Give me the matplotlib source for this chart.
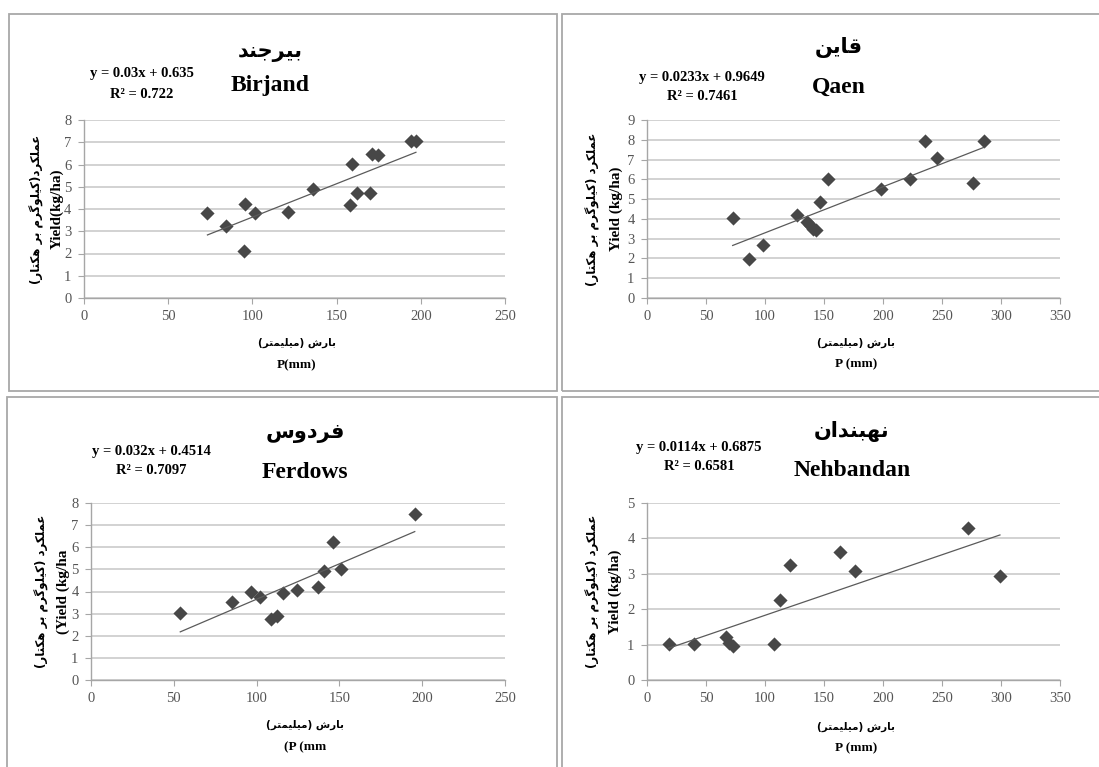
import numpy as np
import matplotlib.pyplot as plt
from matplotlib.patches import Rectangle

# ---- data ----
birjand_p = [73.3, 84.2, 95.5, 95.1, 101.6, 121.4, 136.1, 158.9, 157.9, 162.0, 169.8, 171.0, 174.7, 194.1, 197.1]
birjand_y = [3.80, 3.23, 4.21, 2.12, 3.83, 3.88, 4.92, 6.02, 4.20, 4.74, 4.71, 6.45, 6.44, 7.04, 7.07]

qaen_p = [72.6, 86.7, 98.6, 126.8, 135.3, 138.1, 141.0, 143.2, 146.6, 153.7, 198.0, 223.2, 235.3, 245.5, 276.6, 285.6]
qaen_y = [4.02, 1.99, 2.67, 4.19, 3.85, 3.68, 3.51, 3.43, 4.83, 6.01, 5.49, 6.01, 7.96, 7.06, 5.79, 7.96]

ferdows_p = [53.9, 84.9, 96.4, 102.1, 108.7, 112.1, 116.1, 124.2, 137.3, 140.9, 145.9, 151.0, 195.5]
ferdows_y = [3.01, 3.53, 4.00, 3.73, 2.77, 2.90, 3.94, 4.06, 4.20, 4.93, 6.24, 5.01, 7.50]

nehbandan_p = [18.3, 40.1, 66.9, 69.2, 72.5, 107.8, 112.3, 121.4, 163.7, 176.4, 272.1, 299.1]
nehbandan_y = [1.01, 1.03, 1.22, 1.05, 0.96, 1.01, 2.27, 3.25, 3.62, 3.07, 4.30, 2.93]

# trend line coefficients (slope, intercept, r2) as printed on the chart
birjand_fit = (0.03, 0.635, "0.722")
qaen_fit = (0.0233, 0.9649, "0.7461")
ferdows_fit = (0.032, 0.4514, "0.7097")
nehbandan_fit = (0.0114, 0.6875, "0.6581")

# ---- minimal Persian shaping (matplotlib has no bidi / joining) ----
FORMS = {
    'ا': ('\uFE8D', '\uFE8E', None, None),
    'ب': ('\uFE8F', '\uFE90', '\uFE91', '\uFE92'),
    'ت': ('\uFE95', '\uFE96', '\uFE97', '\uFE98'),
    'ج': ('\uFE9D', '\uFE9E', '\uFE9F', '\uFEA0'),
    'د': ('\uFEA9', '\uFEAA', None, None),
    'ر': ('\uFEAD', '\uFEAE', None, None),
    'س': ('\uFEB1', '\uFEB2', '\uFEB3', '\uFEB4'),
    'ش': ('\uFEB5', '\uFEB6', '\uFEB7', '\uFEB8'),
    'ع': ('\uFEC9', '\uFECA', '\uFECB', '\uFECC'),
    'ف': ('\uFED1', '\uFED2', '\uFED3', '\uFED4'),
    'ق': ('\uFED5', '\uFED6', '\uFED7', '\uFED8'),
    'ل': ('\uFEDD', '\uFEDE', '\uFEDF', '\uFEE0'),
    'م': ('\uFEE1', '\uFEE2', '\uFEE3', '\uFEE4'),
    'ن': ('\uFEE5', '\uFEE6', '\uFEE7', '\uFEE8'),
    'ه': ('\uFEE9', '\uFEEA', '\uFEEB', '\uFEEC'),
    'و': ('\uFEED', '\uFEEE', None, None),
    'ک': ('\uFB8E', '\uFB8F', '\uFB90', '\uFB91'),
    'گ': ('\uFB92', '\uFB93', '\uFB94', '\uFB95'),
    'ی': ('\uFBFC', '\uFBFD', '\uFBFE', '\uFBFF'),
}
MIRROR = {'(': ')', ')': '('}


def fa(s):
    out = []
    for i, ch in enumerate(s):
        if ch not in FORMS:
            out.append(MIRROR.get(ch, ch))
            continue
        prev = s[i - 1] if i > 0 else ''
        nxt = s[i + 1] if i + 1 < len(s) else ''
        iso, fin, ini, med = FORMS[ch]
        jp = prev in FORMS and FORMS[prev][2] is not None
        jn = ini is not None and nxt in FORMS
        if jp and jn:
            out.append(med)
        elif jp:
            out.append(fin)
        elif jn:
            out.append(ini)
        else:
            out.append(iso)
    return ''.join(reversed(out))


W, H = 1099, 767
fig = plt.figure(figsize=(W / 100, H / 100), dpi=100)

serif = 'Liberation Serif'
arab = 'DejaVu Sans'


def fx(x):
    return x / W


def fy(y):
    return 1 - y / H


# panel frames
for (x0, y0, x1, y1) in [(9, 14, 557, 391), (562, 14, 1105, 391),
                         (7, 397, 557, 775), (562, 397, 1105, 775)]:
    fig.patches.append(Rectangle((fx(x0), fy(y1)), fx(x1 - x0), (y1 - y0) / H,
                                 transform=fig.transFigure, fill=False,
                                 edgecolor='#a8a8a8', linewidth=1.3))

panels = [
    dict(p=birjand_p, y=birjand_y, fit=birjand_fit, fa_title='بیرجند', en='Birjand',
         box=(84, 120, 505, 298), xmax=250, ymax=8, cx=270, ty=(52, 86), eq=(142, 74, 94),
         ylab=('عملکرد(کیلوگرم بر هکتار)', 'Yield(kg/ha)'), ylx=(37, 57),
         xlab='P(mm)', xl=(297, 343, 365)),
    dict(p=qaen_p, y=qaen_y, fit=qaen_fit, fa_title='قاین', en='Qaen',
         box=(647, 120, 1060, 298), xmax=350, ymax=9, cx=839, ty=(47, 87), eq=(702, 78, 97),
         ylab=('عملکرد (کیلوگرم بر هکتار)', 'Yield (kg/ha)'), ylx=(593, 616),
         xlab='P (mm)', xl=(856, 343, 364)),
    dict(p=ferdows_p, y=ferdows_y, fit=ferdows_fit, fa_title='فردوس', en='Ferdows',
         box=(91, 503, 505, 680), xmax=250, ymax=8, cx=305, ty=(433, 472), eq=(151, 452, 471),
         ylab=('عملکرد (کیلوگرم بر هکتار)', '(Yield (kg/ha'), ylx=(42, 63),
         xlab='(P (mm', xl=(305, 725, 747)),
    dict(p=nehbandan_p, y=nehbandan_y, fit=nehbandan_fit, fa_title='نهبندان', en='Nehbandan',
         box=(647, 503, 1060, 680), xmax=350, ymax=5, cx=852, ty=(432, 470), eq=(699, 447, 467),
         ylab=('عملکرد (کیلوگرم بر هکتار)', 'Yield (kg/ha)'), ylx=(593, 615),
         xlab='P (mm)', xl=(856, 727, 748)),
]

for d in panels:
    x0, y0, x1, y1 = d['box']
    ax = fig.add_axes([fx(x0), fy(y1), fx(x1 - x0), (y1 - y0) / H])
    ax.set_xlim(0, d['xmax'])
    ax.set_ylim(0, d['ymax'])
    ax.set_xticks(np.arange(0, d['xmax'] + 1, 50))
    ax.set_yticks(np.arange(0, d['ymax'] + 1, 1))
    ax.yaxis.grid(True, color='#cfcfcf', linewidth=1.3)
    ax.set_axisbelow(True)
    for s in ['top', 'right']:
        ax.spines[s].set_visible(False)
    for s in ['left', 'bottom']:
        ax.spines[s].set_color('#a6a6a6')
        ax.spines[s].set_linewidth(1.0)
    ax.tick_params(axis='both', direction='out', length=4, width=0.8, color='#a6a6a6',
                   labelsize=10.5, labelcolor='#555555', pad=5)
    for lab in ax.get_xticklabels() + ax.get_yticklabels():
        lab.set_family(serif)

    ax.scatter(d['p'], d['y'], marker='D', s=52, color='#474747', zorder=3, linewidths=0)
    a, b, r2 = d['fit']
    xs = np.array([min(d['p']), max(d['p'])])
    ax.plot(xs, a * xs + b, color='#5a5a5a', linewidth=0.9, zorder=4)

    # titles
    fig.text(fx(d['cx']), fy(d['ty'][0]), fa(d['fa_title']), ha='center', va='center',
             family=arab, fontweight='bold', fontsize=15)
    fig.text(fx(d['cx']), fy(d['ty'][1]), d['en'], ha='center', va='center',
             family=serif, fontweight='bold', fontsize=17)
    ex, ey1, ey2 = d['eq']
    fig.text(fx(ex), fy(ey1), 'y = %sx + %s' % (a, b), ha='center', va='center',
             family=serif, fontweight='bold', fontsize=10.5)
    fig.text(fx(ex), fy(ey2), 'R² = %s' % r2, ha='center', va='center',
             family=serif, fontweight='bold', fontsize=10.5)

    # axis labels
    ymid = fy((y0 + y1) / 2)
    fig.text(fx(d['ylx'][0]), ymid, fa(d['ylab'][0]), rotation=90, ha='center', va='center',
             family=arab, fontweight='bold', fontsize=8.5)
    fig.text(fx(d['ylx'][1]), ymid, d['ylab'][1], rotation=90, ha='center', va='center',
             family=serif, fontweight='bold', fontsize=11)
    xc, xy1, xy2 = d['xl']
    fig.text(fx(xc), fy(xy1), fa('بارش (میلیمتر)'), ha='center', va='center',
             family=arab, fontweight='bold', fontsize=7.5)
    fig.text(fx(xc), fy(xy2), d['xlab'], ha='center', va='center',
             family=serif, fontweight='bold', fontsize=9.5)

plt.savefig('out.png', dpi=100)
plt.close()
